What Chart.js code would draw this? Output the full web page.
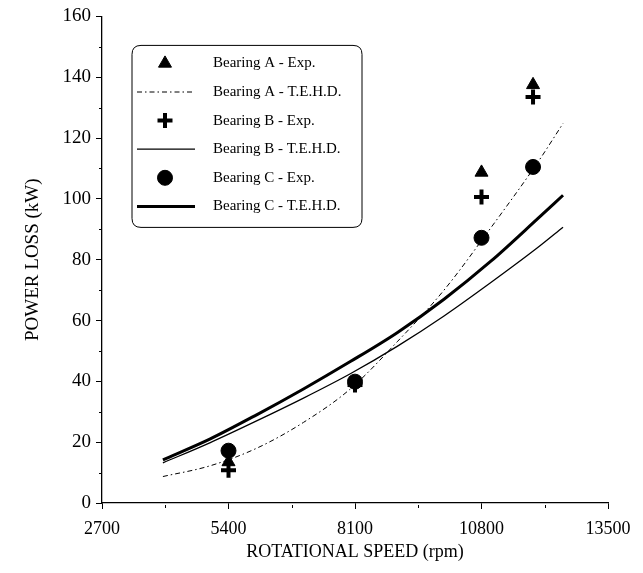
<!DOCTYPE html>
<html>
<head>
<meta charset="utf-8">
<script src="https://cdn.jsdelivr.net/npm/chart.js@4.4.1/dist/chart.umd.min.js"></script>
<style>
  html, body { margin: 0; padding: 0; background: #fff; }
  #wrap { width: 643px; height: 573px; }
</style>
</head>
<body>
<div id="wrap"><canvas id="c" width="643" height="573"></canvas></div>
<script>
// ---- data ----
const expSpeeds = [5400, 8100, 10800, 11900];
const bearingAExp = [13.5, 39.5, 108.7, 137.5];
const bearingBExp = [10.8, 38.8, 100.6, 133.5];
const bearingCExp = [17.2, 39.9, 87.2, 110.5];

const curveSpeeds = [4000, 5000, 6000, 7000, 8000, 9000, 10000, 11000, 12000, 12540];
const bearingATehd = [8.7, 12.2, 18.0, 26.5, 37.5, 53.0, 70.0, 90.5, 112.0, 124.8];
const bearingBTehd = [13.2, 19.8, 27.0, 34.5, 42.5, 51.5, 61.5, 72.5, 84.0, 90.7];
const bearingCTehd = [14.2, 21.0, 29.0, 37.5, 46.5, 56.0, 67.0, 79.5, 93.5, 101.2];

const xTicks = [2700, 5400, 8100, 10800, 13500];
const xMinorTicks = [4050, 6750, 9450, 12150];
const yTicks = [0, 20, 40, 60, 80, 100, 120, 140, 160];
const yMinorTicks = [10, 30, 50, 70, 90, 110, 130, 150];

const seriesLabels = [
  'Bearing A - Exp.', 'Bearing A - T.E.H.D.',
  'Bearing B - Exp.', 'Bearing B - T.E.H.D.',
  'Bearing C - Exp.', 'Bearing C - T.E.H.D.'
];

const pairs = (xs, ys) => xs.map((x, i) => ({ x: x, y: ys[i] }));
const SERIF = "'Liberation Serif', 'DejaVu Serif', serif";

const expStyle = (style, bw) => ({
  showLine: false, pointStyle: style, pointRadius: 7.5, pointHoverRadius: 7.5,
  pointBorderWidth: bw, pointBackgroundColor: '#000', pointBorderColor: '#000',
  borderColor: '#000', backgroundColor: '#000'
});
const lineStyle = (w, dash) => ({
  showLine: true, pointRadius: 0, borderColor: '#000', borderWidth: w,
  borderDash: dash, cubicInterpolationMode: 'monotone', fill: false
});

const datasets = [
  Object.assign({ label: seriesLabels[0], data: pairs(expSpeeds, bearingAExp) }, expStyle('triangle', 1)),
  Object.assign({ label: seriesLabels[1], data: pairs(curveSpeeds, bearingATehd) }, lineStyle(1, [5, 3, 1.5, 3])),
  Object.assign({ label: seriesLabels[2], data: pairs(expSpeeds, bearingBExp) }, expStyle('cross', 4)),
  Object.assign({ label: seriesLabels[3], data: pairs(curveSpeeds, bearingBTehd) }, lineStyle(1.3, [])),
  Object.assign({ label: seriesLabels[4], data: pairs(expSpeeds, bearingCExp) }, expStyle('circle', 1)),
  Object.assign({ label: seriesLabels[5], data: pairs(curveSpeeds, bearingCTehd) }, lineStyle(3, []))
];

// minor tick marks
const minorTicks = {
  id: 'minorTicks',
  afterDraw(chart) {
    const { ctx, scales: { x, y } } = chart;
    ctx.save();
    ctx.strokeStyle = '#000';
    ctx.lineWidth = 1;
    xMinorTicks.forEach(v => {
      const px = Math.round(x.getPixelForValue(v)) + 0.5;
      ctx.beginPath(); ctx.moveTo(px, y.bottom + 2); ctx.lineTo(px, y.bottom + 5); ctx.stroke();
    });
    yMinorTicks.forEach(v => {
      const py = Math.round(y.getPixelForValue(v)) + 0.5;
      ctx.beginPath(); ctx.moveTo(x.left - 3, py); ctx.lineTo(x.left - 1, py); ctx.stroke();
    });
    ctx.restore();
  }
};

// legend inside the plot area
const insideLegend = {
  id: 'insideLegend',
  afterDatasetsDraw(chart) {
    const { ctx, chartArea } = chart;
    const x0 = chartArea.left + 30, y0 = chartArea.top + 29, w = 230, h = 182, r = 9;
    ctx.save();
    ctx.beginPath();
    ctx.moveTo(x0 + r, y0);
    ctx.lineTo(x0 + w - r, y0);
    ctx.quadraticCurveTo(x0 + w, y0, x0 + w, y0 + r);
    ctx.lineTo(x0 + w, y0 + h - r);
    ctx.quadraticCurveTo(x0 + w, y0 + h, x0 + w - r, y0 + h);
    ctx.lineTo(x0 + r, y0 + h);
    ctx.quadraticCurveTo(x0, y0 + h, x0, y0 + h - r);
    ctx.lineTo(x0, y0 + r);
    ctx.quadraticCurveTo(x0, y0, x0 + r, y0);
    ctx.closePath();
    ctx.fillStyle = '#fff';
    ctx.fill();
    ctx.strokeStyle = '#000';
    ctx.lineWidth = 1;
    ctx.stroke();

    chart.data.datasets.forEach((ds, i) => {
      const cy = y0 + 18 + i * 28.6;
      ctx.save();
      ctx.fillStyle = '#000';
      ctx.strokeStyle = '#000';
      if (ds.showLine === false) {
        ctx.lineWidth = ds.pointBorderWidth;
        Chart.helpers.drawPoint(ctx, {
          pointStyle: ds.pointStyle, rotation: 0,
          radius: ds.pointRadius, borderWidth: ds.pointBorderWidth
        }, x0 + 33, cy);
      } else {
        ctx.lineWidth = ds.borderWidth;
        ctx.setLineDash(ds.borderDash || []);
        ctx.beginPath();
        ctx.moveTo(x0 + 5, cy);
        ctx.lineTo(x0 + 63, cy);
        ctx.stroke();
      }
      ctx.restore();
      ctx.font = '15px ' + SERIF;
      ctx.textBaseline = 'middle';
      ctx.textAlign = 'left';
      ctx.fillStyle = '#000';
      ctx.fillText(ds.label, x0 + 81, cy);
    });
    ctx.restore();
  }
};

new Chart(document.getElementById('c'), {
  type: 'line',
  data: { datasets: datasets },
  plugins: [minorTicks, insideLegend],
  options: {
    responsive: false,
    animation: false,
    events: [],
    layout: { padding: { top: 16, right: 35, bottom: 6, left: 0 } },
    plugins: { legend: { display: false }, tooltip: { enabled: false } },
    scales: {
      x: {
        type: 'linear', min: xTicks[0], max: xTicks[xTicks.length - 1],
        afterBuildTicks: s => { s.ticks = xTicks.map(v => ({ value: v })); },
        afterFit: s => { s.height = 64; },
        ticks: { color: '#000', font: { family: SERIF, size: 18 }, padding: 9, maxRotation: 0, autoSkip: false,
                 callback: v => String(v) },
        grid: { display: true, drawOnChartArea: false, drawTicks: true, tickLength: 6, color: '#000', tickColor: '#000' },
        border: { display: true, color: '#000', width: 1.3 },
        title: { display: true, text: 'ROTATIONAL SPEED (rpm)', color: '#000',
                 font: { family: SERIF, size: 18 }, padding: { top: 0, bottom: 4 } }
      },
      y: {
        type: 'linear', min: yTicks[0], max: yTicks[yTicks.length - 1],
        afterBuildTicks: s => { s.ticks = yTicks.map(v => ({ value: v })); },
        afterFit: s => { s.width = 102; },
        ticks: { color: '#000', font: { family: SERIF, size: 19 }, padding: 5, autoSkip: false,
                 callback: v => String(v) },
        grid: { display: true, drawOnChartArea: false, drawTicks: true, tickLength: 6, color: '#000', tickColor: '#000' },
        border: { display: true, color: '#000', width: 1.3 },
        title: { display: true, text: 'POWER LOSS (kW)', color: '#000',
                 font: { family: SERIF, size: 19 }, padding: { top: 22, bottom: 0 } }
      }
    }
  }
});
</script>
</body>
</html>
